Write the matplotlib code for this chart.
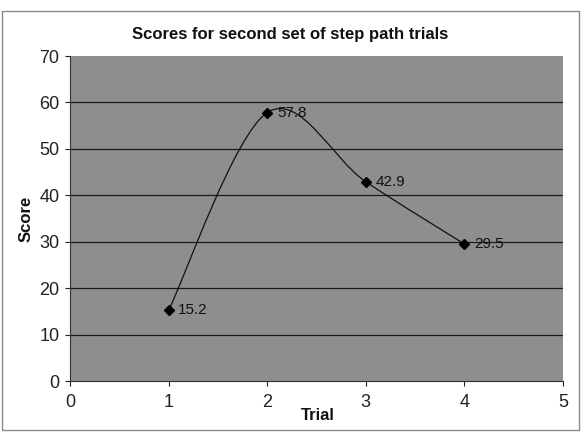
import matplotlib
matplotlib.use("Agg")
import matplotlib.pyplot as plt
from matplotlib.path import Path
from matplotlib.patches import PathPatch, Rectangle

plt.rcParams["font.family"] = ["Liberation Sans", "DejaVu Sans"]

# datos
trials = [1, 2, 3, 4]
scores = [15.2, 57.8, 42.9, 29.5]
labels = ["15.2", "57.8", "42.9", "29.5"]
x_ticks = [0, 1, 2, 3, 4, 5]
y_ticks = [0, 10, 20, 30, 40, 50, 60, 70]


def _smooth_path(xs, ys):
    # curva suavizada tipo Excel (Bezier con tangentes Catmull-Rom)
    pts = list(zip(xs, ys))
    n = len(pts)
    verts = [pts[0]]
    codes = [Path.MOVETO]
    for i in range(n - 1):
        p0 = pts[i - 1] if i > 0 else pts[i]
        p1 = pts[i]
        p2 = pts[i + 1]
        p3 = pts[i + 2] if i + 2 < n else pts[i + 1]
        c1 = (p1[0] + (p2[0] - p0[0]) / 6, p1[1] + (p2[1] - p0[1]) / 6)
        c2 = (p2[0] - (p3[0] - p1[0]) / 6, p2[1] - (p3[1] - p1[1]) / 6)
        verts += [c1, c2, p2]
        codes += [Path.CURVE4] * 3
    return Path(verts, codes)


fig = plt.figure(figsize=(5.82, 4.33), dpi=100)
fig.patch.set_facecolor("white")
fig.add_artist(Rectangle((2 / 582, 3 / 433), 577 / 582, 419 / 433,
                         transform=fig.transFigure, fill=False,
                         edgecolor="#8a8a8a", linewidth=1.0))

ax = fig.add_axes([70 / 582, 52 / 433, 493 / 582, 325 / 433])
ax.set_facecolor("#8e8e8e")
ax.set_xlim(0, 5)
ax.set_ylim(0, 70)

for y in y_ticks[1:-1]:
    ax.axhline(y, color="#1a1a1a", linewidth=0.9, zorder=1)

ax.add_patch(PathPatch(_smooth_path(trials, scores), fill=False,
                       edgecolor="#111111", linewidth=0.9, zorder=2))
ax.plot(trials, scores, linestyle="none", marker="D", markersize=5,
        color="black", zorder=3)
for xv, yv, lab in zip(trials, scores, labels):
    ax.annotate(lab, (xv, yv), xytext=(7, 0), textcoords="offset points",
                va="center", ha="left", fontsize=11, color="#111111")

ax.set_xticks(x_ticks)
ax.set_yticks(y_ticks)
ax.tick_params(direction="out", length=3.6, width=0.8, labelsize=13,
               colors="#222222")
ax.tick_params(axis="x", pad=6)
ax.tick_params(axis="y", pad=4)
for s in ["top", "right"]:
    ax.spines[s].set_visible(False)
for s in ["left", "bottom"]:
    ax.spines[s].set_color("#333333")
    ax.spines[s].set_linewidth(0.8)

fig.text(290 / 582, 1 - 35 / 433, "Scores for second set of step path trials",
         ha="center", va="center", fontsize=12, fontweight="bold", color="#111111")
fig.text(318 / 582, 1 - 416 / 433, "Trial", ha="center", va="center",
         fontsize=12, fontweight="bold", color="#111111")
fig.text(26 / 582, 1 - 219 / 433, "Score", ha="center", va="center",
         rotation=90, fontsize=12, fontweight="bold", color="#111111")

fig.savefig("out.png", dpi=100)
